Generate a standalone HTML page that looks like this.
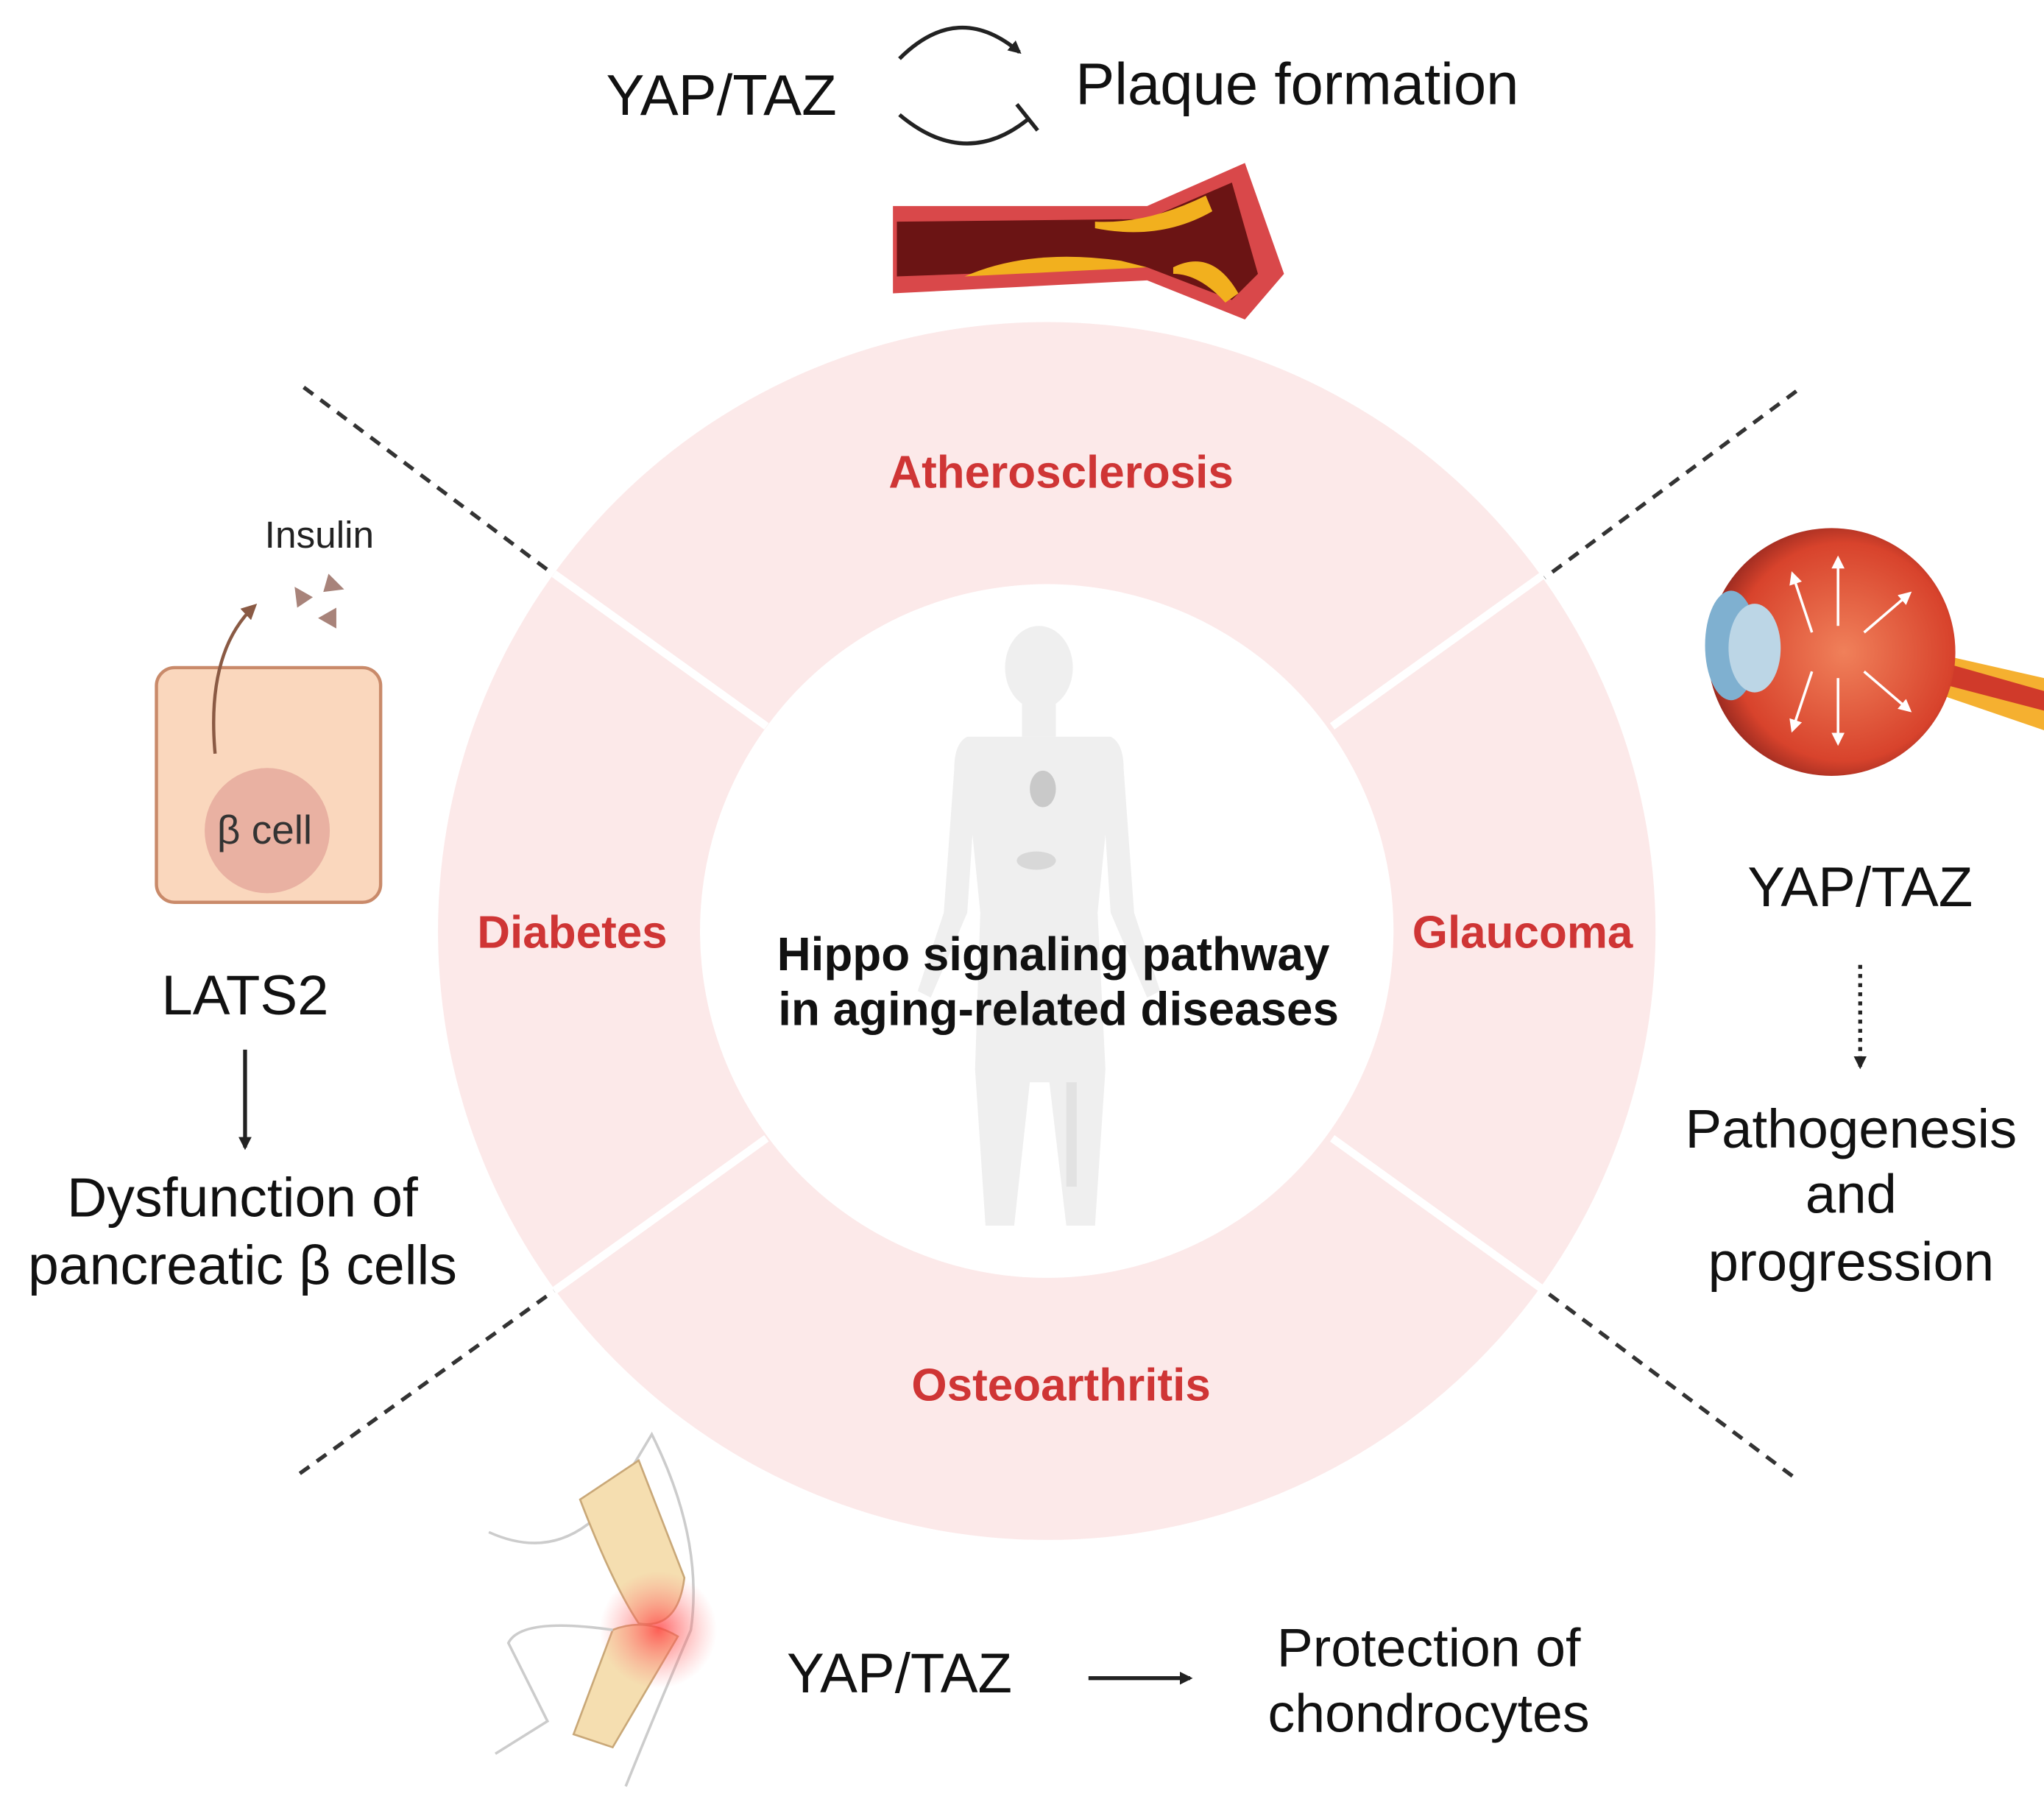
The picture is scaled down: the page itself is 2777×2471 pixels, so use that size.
<!DOCTYPE html>
<html><head><meta charset="utf-8"><style>
html,body{margin:0;padding:0;background:#fff;}
svg{display:block;}
text{font-family:"Liberation Sans",sans-serif;}
</style></head><body>
<svg width="2777" height="2471" viewBox="0 0 1568 1395" preserveAspectRatio="none" xmlns="http://www.w3.org/2000/svg">
<defs>
<marker id="ah" markerWidth="10" markerHeight="10" refX="8" refY="5" orient="auto" markerUnits="userSpaceOnUse"><path d="M0,0 L10,5 L0,10 z" fill="#222"/></marker>
<marker id="ahw" markerWidth="10" markerHeight="10" refX="8" refY="5" orient="auto" markerUnits="userSpaceOnUse"><path d="M0,0 L10,5 L0,10 z" fill="#fff"/></marker>
<marker id="ahb" markerWidth="12" markerHeight="12" refX="9" refY="6" orient="auto" markerUnits="userSpaceOnUse"><path d="M0,0 L12,6 L0,12 z" fill="#8a5a44"/></marker>
<radialGradient id="glow" cx="0.5" cy="0.5" r="0.5"><stop offset="0" stop-color="#ff4040" stop-opacity="0.8"/><stop offset="1" stop-color="#ff8080" stop-opacity="0"/></radialGradient>
<radialGradient id="eyeg" cx="0.55" cy="0.5" r="0.55"><stop offset="0" stop-color="#f0805a"/><stop offset="0.8" stop-color="#d8432c"/><stop offset="1" stop-color="#9a2a20"/></radialGradient>
</defs>

<circle cx="803" cy="714" r="467" fill="#fce9e9"/>
<circle cx="803" cy="714" r="266" fill="#fff"/>
<g stroke="#fff" stroke-width="6">
<line x1="425" y1="440" x2="588" y2="557"/>
<line x1="1185" y1="440" x2="1022" y2="557"/>
<line x1="425" y1="990" x2="588" y2="873"/>
<line x1="1185" y1="990" x2="1022" y2="873"/>
</g>
<g stroke="#333" stroke-width="3" stroke-dasharray="9,7">
<line x1="233" y1="297" x2="420" y2="437"/>
<line x1="1378" y1="300" x2="1185" y2="443"/>
<line x1="230" y1="1130" x2="425" y2="990"/>
<line x1="1375" y1="1132" x2="1185" y2="990"/>
</g>

<g fill="#efefef">
<ellipse cx="797" cy="512" rx="26" ry="32"/>
<rect x="784" y="540" width="26" height="25"/>
<path d="M742,565 L852,565 Q862,570 862,590 L870,700 L890,760 L880,765 L852,700 L848,640 L842,700 L848,820 L840,940 L818,940 L805,830 L790,830 L778,940 L756,940 L748,820 L752,700 L746,640 L742,700 L714,765 L704,760 L724,700 L732,590 Q732,570 742,565 Z"/>
</g>
<ellipse cx="800" cy="605" rx="10" ry="14" fill="#c9c9c9"/>
<ellipse cx="795" cy="660" rx="15" ry="7" fill="#d8d8d8"/>
<rect x="818" y="830" width="8" height="80" fill="#e2e2e2"/>

<g font-weight="bold" font-size="35" fill="#cf3535" text-anchor="middle">
<text x="814" y="374">Atherosclerosis</text>
<text x="439" y="727">Diabetes</text>
<text x="1168" y="727">Glaucoma</text>
<text x="814" y="1074">Osteoarthritis</text>
</g>
<g font-weight="bold" font-size="36" fill="#111" text-anchor="middle">
<text x="808" y="744">Hippo signaling pathway</text>
<text x="812" y="786">in aging-related diseases</text>
</g>

<text x="465" y="88" font-size="44" fill="#111">YAP/TAZ</text>
<text x="825" y="80" font-size="45" fill="#111">Plaque formation</text>
<path d="M690,45 Q735,0 782,40" fill="none" stroke="#222" stroke-width="3" marker-end="url(#ah)"/>
<path d="M690,88 Q740,130 788,92" fill="none" stroke="#222" stroke-width="3"/>
<line x1="780" y1="80" x2="796" y2="100" stroke="#222" stroke-width="3"/>

<path d="M685,158 L880,158 L955,125 L985,210 L955,245 L880,215 L685,225 Z" fill="#d9484a"/>
<path d="M688,170 L880,168 L945,140 L965,210 L945,230 L880,205 L688,212 Z" fill="#6b1414"/>
<path d="M740,212 Q790,190 860,200 L880,205 Z" fill="#f2b01e"/>
<path d="M840,170 Q880,172 925,150 L930,162 Q890,185 840,175 Z" fill="#f2b01e"/>
<path d="M900,205 Q930,190 950,225 L940,232 Q920,210 900,210 Z" fill="#f2b01e"/>

<rect x="120" y="512" width="172" height="180" rx="14" fill="#fad7bd" stroke="#c98a6a" stroke-width="2.5"/>
<circle cx="205" cy="637" r="48" fill="#e9b1a2"/>
<text x="203" y="647" font-size="31" fill="#333" text-anchor="middle">β cell</text>
<path d="M165,578 Q158,500 195,465" fill="none" stroke="#8a5a44" stroke-width="2.5" marker-end="url(#ahb)"/>
<text x="245" y="420" font-size="29" fill="#222" text-anchor="middle">Insulin</text>
<g fill="#a8837a">
<path d="M226,450 L240,458 L228,466 Z"/>
<path d="M252,440 L264,452 L248,454 Z"/>
<path d="M244,474 L258,466 L258,482 Z"/>
</g>
<text x="188" y="778" font-size="43" fill="#111" text-anchor="middle">LATS2</text>
<line x1="188" y1="805" x2="188" y2="880" stroke="#222" stroke-width="3" marker-end="url(#ah)"/>
<text x="186" y="933" font-size="42.5" fill="#111" text-anchor="middle">Dysfunction of</text>
<text x="186" y="985" font-size="42.5" fill="#111" text-anchor="middle">pancreatic β cells</text>

<path d="M1480,500 L1568,520 L1568,560 L1480,530 Z" fill="#f5b030"/>
<path d="M1480,505 L1568,530 L1568,545 L1480,522 Z" fill="#d03a2a"/>
<circle cx="1405" cy="500" r="95" fill="url(#eyeg)"/>
<ellipse cx="1328" cy="495" rx="20" ry="42" fill="#7fb0d0"/>
<ellipse cx="1346" cy="497" rx="20" ry="34" fill="#bcd6e6"/>
<g stroke="#fff" stroke-width="2" marker-end="url(#ahw)">
<line x1="1410" y1="480" x2="1410" y2="428"/>
<line x1="1410" y1="520" x2="1410" y2="570"/>
<line x1="1430" y1="485" x2="1465" y2="455"/>
<line x1="1430" y1="515" x2="1465" y2="545"/>
<line x1="1390" y1="485" x2="1375" y2="440"/>
<line x1="1390" y1="515" x2="1375" y2="560"/>
</g>
<text x="1427" y="695" font-size="43" fill="#111" text-anchor="middle">YAP/TAZ</text>
<line x1="1427" y1="740" x2="1427" y2="818" stroke="#222" stroke-width="3" stroke-dasharray="3,4" marker-end="url(#ah)"/>
<text x="1420" y="880" font-size="42" fill="#111" text-anchor="middle">Pathogenesis</text>
<text x="1420" y="930" font-size="42" fill="#111" text-anchor="middle">and</text>
<text x="1420" y="982" font-size="42" fill="#111" text-anchor="middle">progression</text>

<path d="M375,1175 Q430,1200 470,1150 L500,1100 Q540,1180 530,1250 Q500,1320 480,1370" fill="none" stroke="#ccc" stroke-width="2"/>
<path d="M445,1150 L490,1120 L525,1210 Q520,1250 490,1245 Q470,1215 445,1150 Z" fill="#f5deb0" stroke="#c9a878" stroke-width="1.5"/>
<path d="M470,1250 Q495,1240 520,1255 L470,1340 L440,1330 Z" fill="#f5deb0" stroke="#c9a878" stroke-width="1.5"/>
<circle cx="505" cy="1250" r="45" fill="url(#glow)"/>
<path d="M380,1345 L420,1320 L390,1260 Q400,1240 470,1250" fill="none" stroke="#ccc" stroke-width="2"/>

<text x="690" y="1298" font-size="43" fill="#111" text-anchor="middle">YAP/TAZ</text>
<line x1="835" y1="1287" x2="913" y2="1287" stroke="#222" stroke-width="3" marker-end="url(#ah)"/>
<text x="1096" y="1278" font-size="41.5" fill="#111" text-anchor="middle">Protection of</text>
<text x="1096" y="1328" font-size="41.5" fill="#111" text-anchor="middle">chondrocytes</text>
</svg>
</body></html>
